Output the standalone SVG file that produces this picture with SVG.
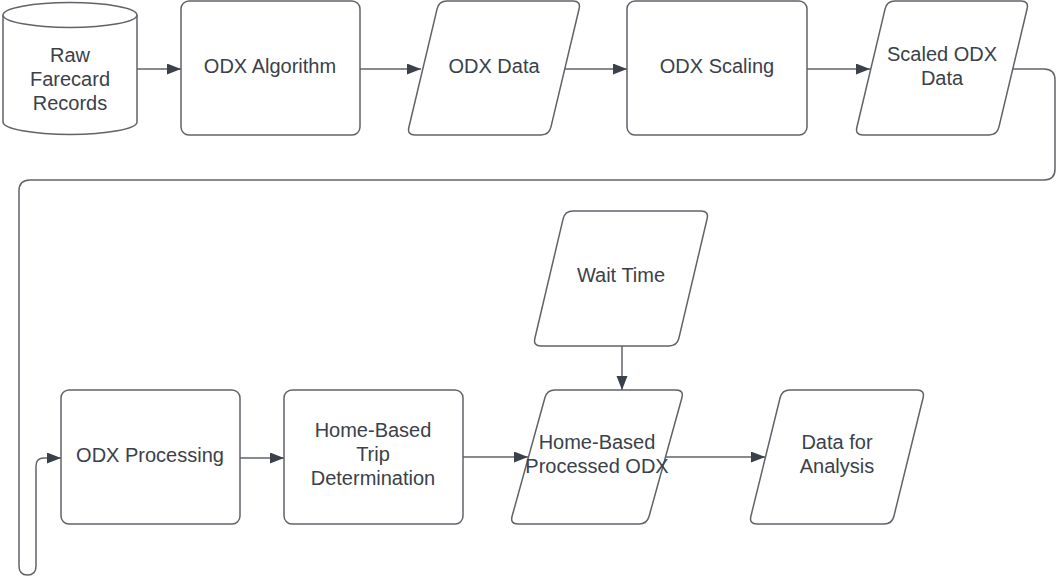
<svg xmlns="http://www.w3.org/2000/svg" width="1056" height="578" viewBox="0 0 1056 578">
<style>
.s{fill:#ffffff;stroke:#5f6368;stroke-width:1.5;stroke-linejoin:round}
.c{fill:none;stroke:#5f6368;stroke-width:1.5}
text{font-family:"Liberation Sans",Arial,sans-serif;font-size:20px;fill:#3a414a;text-anchor:middle}
</style>
<defs>
<marker id="ah" markerUnits="userSpaceOnUse" markerWidth="16" markerHeight="12" refX="14" refY="5.5" orient="auto">
<path d="M0,0 L14,5.5 L0,11 z" fill="#3a414a"/>
</marker>
</defs>
<rect width="1056" height="578" fill="#ffffff"/>
<g id="connectors">
<line class="c" x1="137" y1="69" x2="181" y2="69" marker-end="url(#ah)"/>
<line class="c" x1="360" y1="69" x2="421" y2="69" marker-end="url(#ah)"/>
<line class="c" x1="565" y1="69" x2="627" y2="69" marker-end="url(#ah)"/>
<line class="c" x1="807" y1="69" x2="870" y2="69" marker-end="url(#ah)"/>
<path class="c" d="M1013 69 L1044 69 Q1055 69 1055 80 L1055 169 Q1055 180 1044 180 L30 180 Q19 180 19 191 L19 566 Q19 575 27.5 575 Q36 575 36 566 L36 466 Q36 458 44 458 L61 458" marker-end="url(#ah)"/>
<line class="c" x1="240" y1="458" x2="284" y2="458" marker-end="url(#ah)"/>
<line class="c" x1="463" y1="457" x2="528" y2="457" marker-end="url(#ah)"/>
<line class="c" x1="666" y1="457" x2="765" y2="457" marker-end="url(#ah)"/>
<line class="c" x1="622" y1="346" x2="622" y2="390" marker-end="url(#ah)"/>
</g>
<g id="raw-farecard-records">
<path class="s" d="M3 15 L3 122 A67 12.5 0 0 0 137 122 L137 15"/>
<ellipse class="s" cx="70" cy="15" rx="67" ry="12.5"/>
<text x="70" y="62">Raw</text>
<text x="70" y="86">Farecard</text>
<text x="70" y="110">Records</text>
</g>
<g id="odx-algorithm">
<rect class="s" x="181" y="1" width="179" height="134" rx="8"/>
<text x="270" y="73">ODX Algorithm</text>
</g>
<g id="odx-data">
<path class="s" d="M447 1 L573 1 Q581 1 579.1 8.8 L550.9 127.2 Q549 135 541 135 L415 135 Q407 135 408.9 127.2 L437.1 8.8 Q439 1 447 1 Z"/>
<text x="494" y="73">ODX Data</text>
</g>
<g id="odx-scaling">
<rect class="s" x="627" y="1" width="180" height="134" rx="8"/>
<text x="717" y="73">ODX Scaling</text>
</g>
<g id="scaled-odx-data">
<path class="s" d="M895 1 L1021 1 Q1029 1 1027.1 8.8 L998.9 127.2 Q997 135 989 135 L863 135 Q855 135 856.9 127.2 L885.1 8.8 Q887 1 895 1 Z"/>
<text x="942" y="61">Scaled ODX</text>
<text x="942" y="85">Data</text>
</g>
<g id="wait-time">
<path class="s" d="M573 211 L701 211 Q709 211 707.1 218.8 L678.9 338.2 Q677 346 669 346 L541 346 Q533 346 534.9 338.2 L563.1 218.8 Q565 211 573 211 Z"/>
<text x="621" y="282">Wait Time</text>
</g>
<g id="odx-processing">
<rect class="s" x="61" y="390" width="179" height="134" rx="8"/>
<text x="150" y="462">ODX Processing</text>
</g>
<g id="home-based-trip-determination">
<rect class="s" x="284" y="390" width="179" height="134" rx="8"/>
<text x="373" y="437">Home-Based</text>
<text x="373" y="461">Trip</text>
<text x="373" y="485">Determination</text>
</g>
<g id="home-based-processed-odx">
<path class="s" d="M555 390 L676 390 Q684 390 681.9 397.7 L649.1 516.3 Q647 524 639 524 L518 524 Q510 524 512.1 516.3 L544.9 397.7 Q547 390 555 390 Z"/>
<text x="597" y="449">Home-Based</text>
<text x="597" y="473">Processed ODX</text>
</g>
<g id="data-for-analysis">
<path class="s" d="M790 390 L917 390 Q925 390 923.1 397.8 L893.9 516.2 Q892 524 884 524 L757 524 Q749 524 750.9 516.2 L780.1 397.8 Q782 390 790 390 Z"/>
<text x="837" y="449">Data for</text>
<text x="837" y="473">Analysis</text>
</g>
</svg>
